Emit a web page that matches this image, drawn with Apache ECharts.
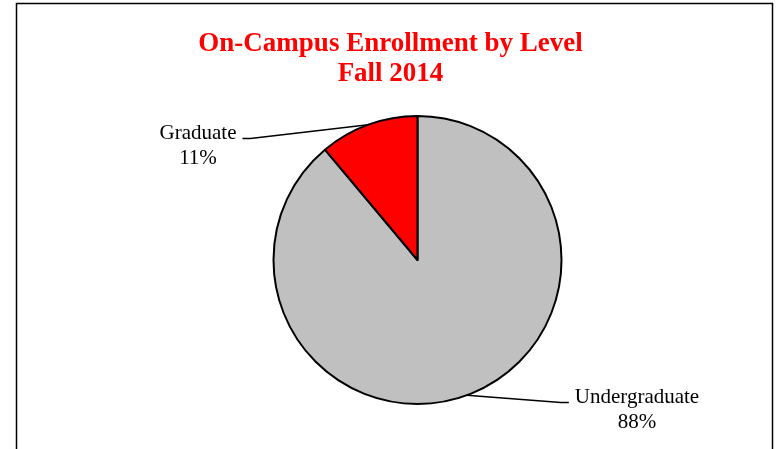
<!DOCTYPE html>
<html>
<head>
<meta charset="utf-8">
<script src="https://cdn.jsdelivr.net/npm/echarts@6/dist/echarts.min.js"></script>
<style>
html,body{margin:0;padding:0;background:#fff;}
#chart{width:781px;height:449px;}
</style>
</head>
<body>
<div id="chart"></div>
<script>
// Data
var titleLines = ['On-Campus Enrollment by Level', 'Fall 2014'];
var categories = ['Undergraduate', 'Graduate'];
var percents = [88, 11];
var sliceColors = ['#C0C0C0', '#FF0000'];
// label anchor positions (centre of each label block), in pixels
var labelCentres = [[637, 402.5], [198, 138.5]];

var chart = echarts.init(document.getElementById('chart'));
var data = categories.map(function (c, i) {
  return { name: c, value: percents[i], itemStyle: { color: sliceColors[i] } };
});

chart.setOption({
  animation: false,
  backgroundColor: '#fff',
  title: {
    text: titleLines.join('\n'),
    left: 'center',
    top: 29,
    padding: [0, 0, 0, 23],
    textStyle: {
      fontFamily: 'Liberation Serif',
      fontWeight: 'bold',
      fontSize: 27,
      lineHeight: 30,
      color: '#FF0000'
    }
  },
  graphic: [{
    type: 'rect',
    shape: { x: 16.5, y: 3.5, width: 756, height: 460 },
    style: { fill: 'none', stroke: '#000', lineWidth: 1.5 },
    silent: true
  }],
  series: [{
    type: 'pie',
    center: [417.5, 260],
    radius: [0, 144],
    startAngle: 90,
    clockwise: true,
    avoidLabelOverlap: false,
    data: data,
    itemStyle: { borderColor: '#000', borderWidth: 2 },
    label: {
      show: true,
      position: 'outside',
      formatter: '{s| }\n{b}\n{c}%',
      fontFamily: 'Liberation Serif',
      fontSize: 21,
      lineHeight: 25,
      color: '#000',
      align: 'center',
      padding: [0, 6, 0, 6],
      rich: {
        s: { fontSize: 10, lineHeight: 14 }
      }
    },
    labelLine: {
      show: true,
      length: 20,
      length2: 8,
      lineStyle: { color: '#000', width: 1.5 }
    },
    labelLayout: function (p) {
      var c = labelCentres[p.dataIndex];
      return { x: c[0], y: c[1], align: 'center', verticalAlign: 'middle' };
    }
  }]
});
</script>
</body>
</html>
